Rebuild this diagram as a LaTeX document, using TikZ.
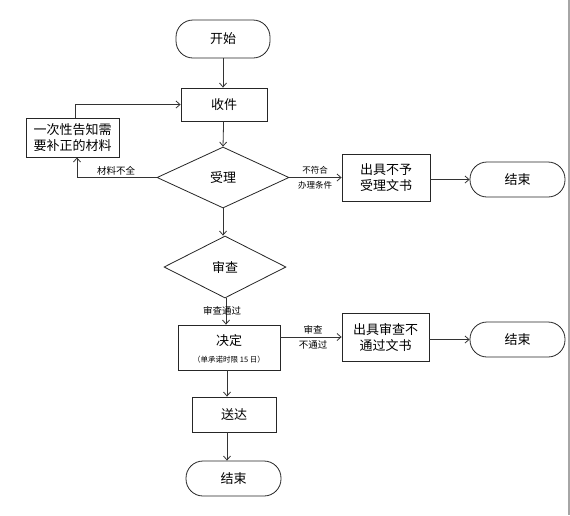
\documentclass[tikz,border=0pt]{standalone}
\usepackage{fontspec}
\setmainfont{Noto Sans CJK SC}
\usetikzlibrary{shapes.geometric,arrows.meta}
\begin{document}
\begin{tikzpicture}[x=1pt,y=-1pt,
  line width=0.8pt,
  box/.style={draw=black!85,rectangle,inner sep=0pt,font=\fontsize{13}{15}\selectfont,align=center},
  pill/.style={draw=black!85,rectangle,rounded corners=17pt,inner sep=0pt,font=\fontsize{13}{15}\selectfont},
  dia/.style={draw=black!85,diamond,inner sep=0pt,font=\fontsize{13}{15}\selectfont},
  conn/.style={draw=black!80,-{Straight Barb[length=4pt,width=7pt]}},
  lbl/.style={font=\fontsize{9.5}{11}\selectfont,inner sep=0pt}]
\useasboundingbox (0,0) rectangle (570,515);
\fill[white] (0,0) rectangle (570,515);
\draw[black!35,line width=1.5pt] (569,0) -- (569,515);

\node[pill,minimum width=94pt,minimum height=38pt] (start) at (223,39) {开始};
\node[box,minimum width=86pt,minimum height=33pt] (recv) at (224,104.5) {收件};
\node[box,minimum width=93pt,minimum height=39pt,font=\fontsize{13}{15.5}\selectfont] (notice) at (72.5,137.5) {一次性告知需\\要补正的材料};
\node[dia,minimum width=132pt,minimum height=61pt] (accept) at (223,177.5) {受理};
\node[box,minimum width=88pt,minimum height=47pt,font=\fontsize{13}{16}\selectfont] (reject1) at (386,177.5) {出具不予\\受理文书};
\node[pill,minimum width=95pt,minimum height=35pt] (end1) at (517.5,179.5) {结束};
\node[dia,minimum width=122pt,minimum height=62pt] (review) at (225,267) {审查};
\node[box,minimum width=102pt,minimum height=45pt] (decide) at (229,347.5) {};
\node[font=\fontsize{13}{15}\selectfont,inner sep=0pt] (decidet) at (229,341) {决定};
\node[font=\fontsize{7.5}{9}\selectfont,inner sep=0pt] (decides) at (229,360) {（单承诺时限 15 日）};
\node[box,minimum width=87pt,minimum height=48pt,font=\fontsize{13}{16}\selectfont] (reject2) at (385.5,337) {出具审查不\\通过文书};
\node[pill,minimum width=95pt,minimum height=35pt] (end2) at (517.5,339.5) {结束};
\node[box,minimum width=84pt,minimum height=35pt] (deliver) at (234,414.5) {送达};
\node[pill,minimum width=95pt,minimum height=35pt] (end3) at (233.5,478.5) {结束};

\coordinate (loopc) at (75,104.5);
\coordinate (lowc) at (77,177.5);

\draw[conn] (start) -- (recv.north -| start);
\draw[conn] (notice.north -| loopc) -- (loopc) -- (recv.west);
\draw[conn] (recv) -- (accept.north);
\draw[conn] (accept.west) -- (lowc) -- (notice.south -| lowc);
\node[lbl] (l1) at (116,171) {材料不全};
\draw[conn] (accept.east) -- (reject1.west |- accept.east);
\node[lbl,font=\fontsize{8.5}{10}\selectfont] (l2) at (315,170.5) {不符合};
\node[lbl,font=\fontsize{8.5}{10}\selectfont] (l3) at (315,185) {办理条件};
\draw[conn] (reject1.east |- end1) -- (end1.west);
\draw[conn] (accept.south) -- (review.north -| accept.south);
\draw[conn] (review.south -| 226,0) -- (decide.north -| 226,0);
\node[lbl] (l4) at (222,310.5) {审查通过};
\draw[conn] (decide.east |- reject2) -- (reject2.west);
\node[lbl] (l5) at (313,330) {审查};
\node[lbl] (l6) at (313,345) {不通过};
\draw[conn] (reject2.east |- end2) -- (end2.west);
\draw[conn] (decide.south -| 227,0) -- (deliver.north -| 227,0);
\draw[conn] (deliver.south -| 227,0) -- (end3.north -| 227,0);
\end{tikzpicture}
\end{document}
